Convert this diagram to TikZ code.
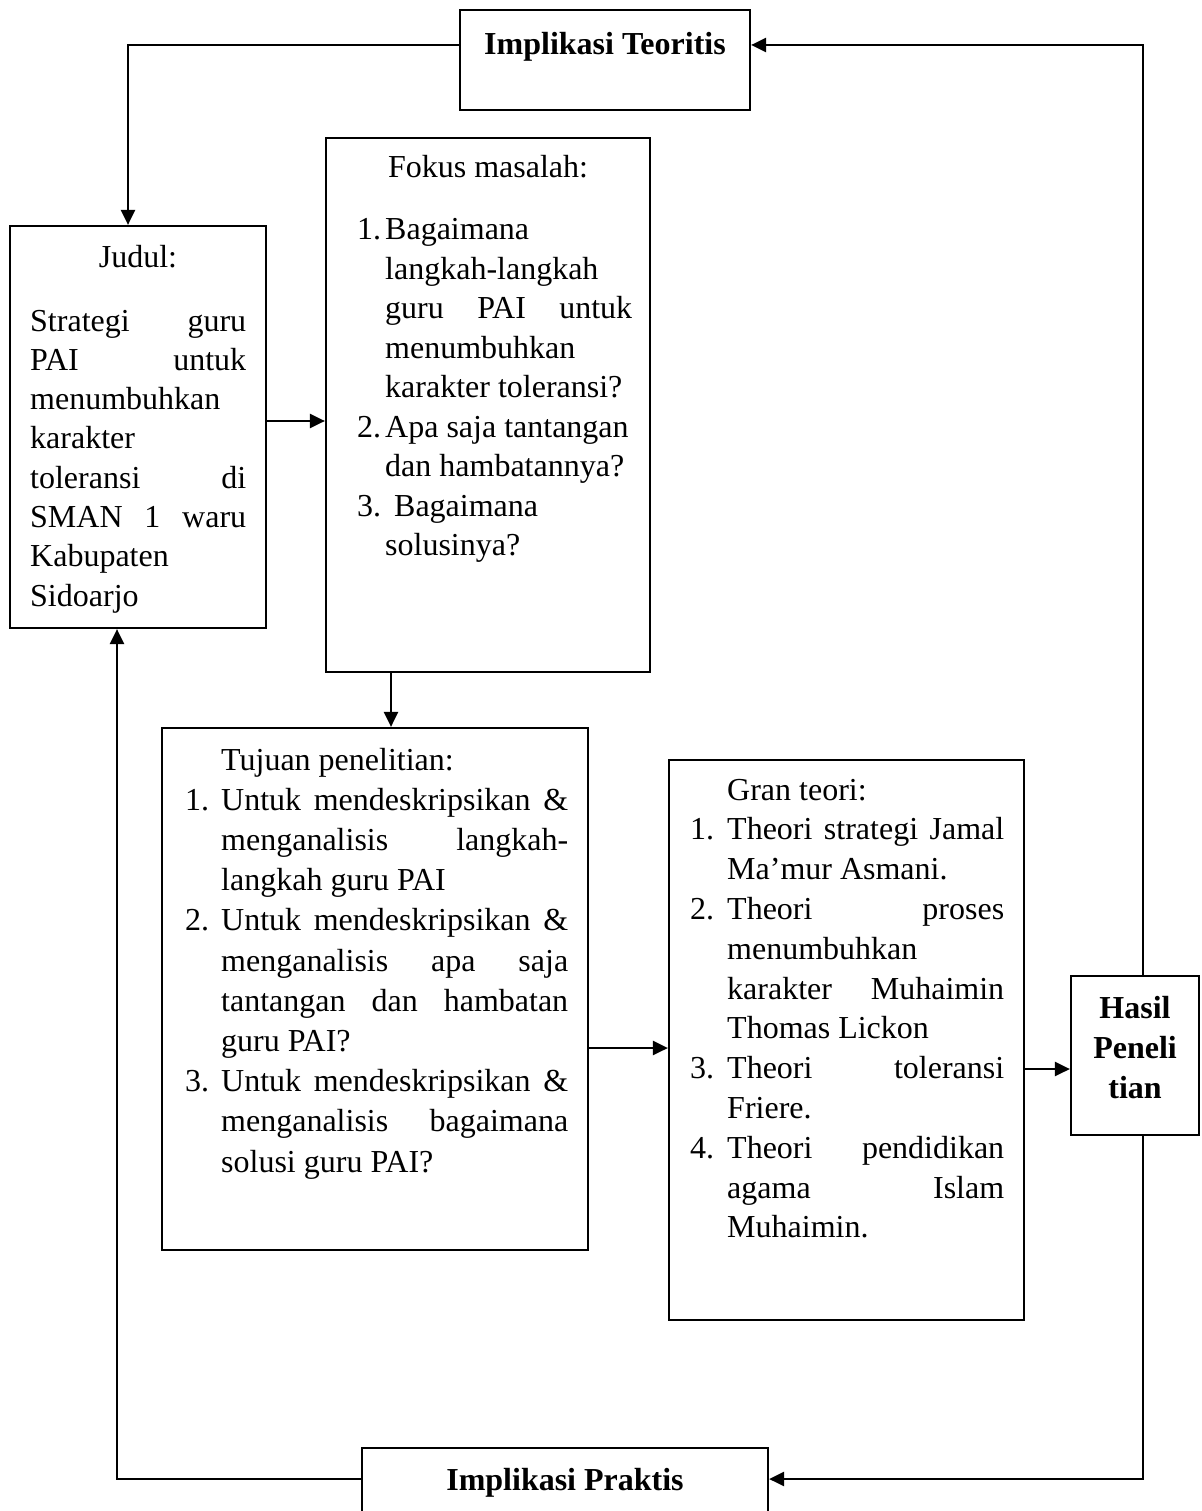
\documentclass[tikz,border=0pt]{standalone}
\usepackage{fontspec}
\setmainfont{Liberation Serif}
\usetikzlibrary{arrows.meta}
\newcommand\fs{\fontsize{32}{40}\selectfont}
\newcommand\JW[2]{\makebox[#1][s]{#2}}
\newcommand\NB[2]{\makebox[#1][l]{#2}}
\begin{document}
\begin{tikzpicture}[x=1pt,y=-1pt,
  box/.style={draw, line width=2.2pt, inner sep=0pt, rectangle},
  txt/.style={inner sep=0pt, font=\fs},
  arr/.style={line width=2.4pt, -{Triangle[length=15pt,width=14pt]}},
  ln/.style={line width=2.4pt}]
\clip (0,0) rectangle (1201,1511);
% boxes
\node[box, minimum width=290pt, minimum height=100pt] (it) at (605,60) {};
\node[box, minimum width=324pt, minimum height=534pt] (fokus) at (488,405) {};
\node[box, minimum width=256pt, minimum height=402pt] (judul) at (138,427) {};
\node[box, minimum width=426pt, minimum height=522pt] (tujuan) at (375,989) {};
\node[box, minimum width=355pt, minimum height=560pt] (gran) at (846.5,1040) {};
\node[box, minimum width=128pt, minimum height=159pt] (hasil) at (1135,1055.5) {};
\node[box, minimum width=406pt, minimum height=92pt] (ip) at (565,1494) {};
% texts
\node[txt, anchor=base] (itT) at (605,55) {\bfseries Implikasi Teoritis};
\node[txt, anchor=base] (ipT) at (565,1490) {\bfseries Implikasi Praktis};
\node[txt, anchor=base] (judulT) at (138,268) {Judul:};
\node[txt, anchor=base west] (judulB) at (30,331) {\begin{minipage}[t]{216pt}\fontsize{32}{39.3}\selectfont
\JW{216pt}{Strategi guru}\\
\JW{216pt}{PAI untuk}\\
menumbuhkan\\
karakter\\
\JW{216pt}{toleransi di}\\
\JW{216pt}{SMAN 1 waru}\\
Kabupaten\\
Sidoarjo\end{minipage}};
\node[txt, anchor=base] (fokusT) at (488,178) {Fokus masalah:};
\node[txt, anchor=base west] (fokusB) at (357,240) {\begin{minipage}[t]{275pt}\fontsize{32}{39.5}\selectfont
\NB{28pt}{1.}Bagaimana\\
\hspace*{28pt}langkah-langkah\\
\hspace*{28pt}\JW{247pt}{guru PAI untuk}\\
\hspace*{28pt}menumbuhkan\\
\hspace*{28pt}karakter toleransi?\\
\NB{28pt}{2.}Apa saja tantangan\\
\hspace*{28pt}dan hambatannya?\\
\NB{28pt}{3.}\hspace*{9pt}Bagaimana\\
\hspace*{28pt}solusinya?\end{minipage}};
\node[txt, anchor=base west] (tujuanB) at (185,770) {\begin{minipage}[t]{383pt}\fontsize{32}{40.2}\selectfont
\hspace*{36pt}Tujuan penelitian:\\
\NB{36pt}{1.}\JW{347pt}{Untuk mendeskripsikan \&}\\
\hspace*{36pt}\JW{347pt}{menganalisis langkah-}\\
\hspace*{36pt}langkah guru PAI\\
\NB{36pt}{2.}\JW{347pt}{Untuk mendeskripsikan \&}\\
\hspace*{36pt}\JW{347pt}{menganalisis apa saja}\\
\hspace*{36pt}\JW{347pt}{tantangan dan hambatan}\\
\hspace*{36pt}guru PAI?\\
\NB{36pt}{3.}\JW{347pt}{Untuk mendeskripsikan \&}\\
\hspace*{36pt}\JW{347pt}{menganalisis bagaimana}\\
\hspace*{36pt}solusi guru PAI?\end{minipage}};
\node[txt, anchor=base west] (granB) at (690,800) {\begin{minipage}[t]{314pt}\fontsize{32}{39.8}\selectfont
\hspace*{37pt}Gran teori:\\
\NB{37pt}{1.}\JW{277pt}{Theori strategi Jamal}\\
\hspace*{37pt}Ma’mur Asmani.\\
\NB{37pt}{2.}\JW{277pt}{Theori proses}\\
\hspace*{37pt}menumbuhkan\\
\hspace*{37pt}\JW{277pt}{karakter Muhaimin}\\
\hspace*{37pt}Thomas Lickon\\
\NB{37pt}{3.}\JW{277pt}{Theori toleransi}\\
\hspace*{37pt}Friere.\\
\NB{37pt}{4.}\JW{277pt}{Theori pendidikan}\\
\hspace*{37pt}\JW{277pt}{agama Islam}\\
\hspace*{37pt}Muhaimin.\end{minipage}};
\node[txt, anchor=base] (hasilT) at (1135,1018) {\begin{minipage}[t]{128pt}\fontsize{32}{40}\selectfont\centering\bfseries
Hasil\\ Peneli\\ tian\end{minipage}};
% connectors
\coordinate (c1) at (128,45);
\coordinate (c2) at (1143,45);
\coordinate (c3) at (0,421);
\coordinate (c4) at (391,0);
\coordinate (c5) at (0,1048);
\coordinate (c6) at (0,1069);
\coordinate (c7) at (1143,1479);
\coordinate (c8) at (117,1479);
\draw[arr] (c1 -| it.west) -- (c1) -- (c1 |- judul.north);
\draw[arr] (c2 |- hasil.north) -- (c2) -- (c2 -| it.east);
\draw[arr] (c3 -| judul.east) -- (c3 -| fokus.west);
\draw[arr] (c4 |- fokus.south) -- (c4 |- tujuan.north);
\draw[arr] (c5 -| tujuan.east) -- (c5 -| gran.west);
\draw[arr] (c6 -| gran.east) -- (c6 -| hasil.west);
\draw[arr] (c7 |- hasil.south) -- (c7) -- (c7 -| ip.east);
\draw[arr] (c8 -| ip.west) -- (c8) -- (c8 |- judul.south);
\end{tikzpicture}
\end{document}
